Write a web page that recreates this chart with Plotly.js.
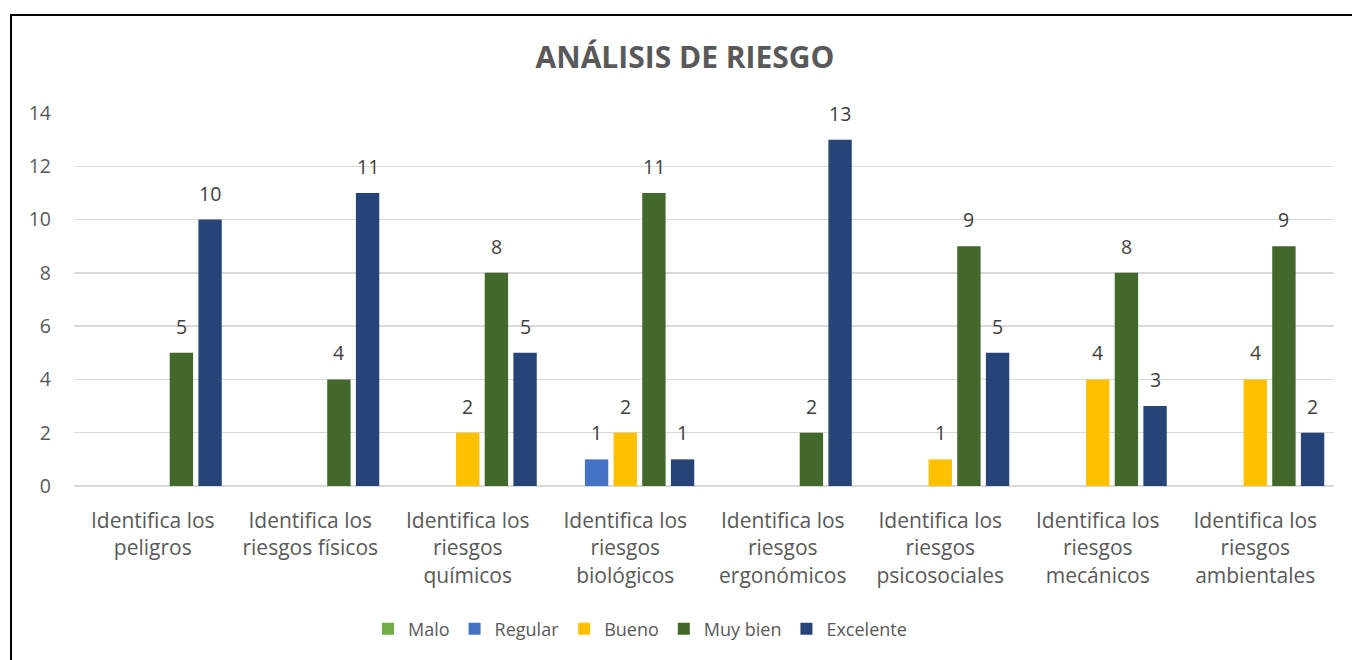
<!DOCTYPE html>
<html>
<head>
<meta charset="utf-8">
<script src="https://cdn.plot.ly/plotly-3.0.1.min.js"></script>
<style>
  html, body { margin: 0; padding: 0; background: #fff; }
  #wrap { position: relative; width: 1352px; height: 660px; overflow: hidden; }
  #chart { position: absolute; left: 0; top: 0; width: 1352px; height: 660px; }
  #frame { position: absolute; left: 10px; top: 14px; width: 1360px; height: 700px;
           border-left: 2px solid #000; border-top: 2px solid #000; pointer-events: none; }
</style>
</head>
<body>
<div id="wrap">
  <div id="chart"></div>
  <div id="frame"></div>
</div>
<script>
const categories = [
  "Identifica los<br>peligros",
  "Identifica los<br>riesgos físicos",
  "Identifica los<br>riesgos<br>químicos",
  "Identifica los<br>riesgos<br>biológicos",
  "Identifica los<br>riesgos<br>ergonómicos",
  "Identifica los<br>riesgos<br>psicosociales",
  "Identifica los<br>riesgos<br>mecánicos",
  "Identifica los<br>riesgos<br>ambientales"
];
const seriesNames = ["Malo", "Regular", "Bueno", "Muy bien", "Excelente"];
const malo      = [null, null, null, null, null, null, null, null];
const regular   = [null, null, null, 1, null, null, null, null];
const bueno     = [null, null, 2, 2, null, 1, 4, 4];
const muyBien   = [5, 4, 8, 11, 2, 9, 8, 9];
const excelente = [10, 11, 5, 1, 13, 5, 3, 2];
const colors = ["#70AD47", "#4472C4", "#FFC000", "#43682B", "#264478"];
const yTicks = [0, 2, 4, 6, 8, 10, 12, 14];

const values = [malo, regular, bueno, muyBien, excelente];
const FONT = "'Open Sans', sans-serif";

const W = 1352, H = 660;
const M = { l: 74, r: 18, t: 113, b: 174 };
const BARGAP = 0.09;
const plotW = W - M.l - M.r;
const slot = plotW / categories.length * (1 - BARGAP) / values.length;

const traces = values.map((v, i) => ({
  type: "bar",
  name: seriesNames[i],
  x: categories,
  y: v,
  marker: { color: colors[i] },
  hoverinfo: "none"
}));

// data labels, positioned through the axes at each bar's value
const annotations = [];
values.forEach((v, i) => {
  v.forEach((d, j) => {
    if (d == null) return;
    annotations.push({
      x: categories[j], y: d, xref: "x", yref: "y",
      text: String(d), showarrow: false,
      xanchor: "center", yanchor: "bottom",
      xshift: (i - (values.length - 1) / 2) * slot,
      yshift: 11,
      font: { family: FONT, size: 19.5, color: "#404040" }
    });
  });
});

const layout = {
  width: W,
  height: H,
  margin: M,
  paper_bgcolor: "rgba(0,0,0,0)",
  plot_bgcolor: "rgba(0,0,0,0)",
  font: { family: FONT, color: "#595959", size: 19 },
  title: {
    text: "<b>ANÁLISIS DE RIESGO</b>",
    font: { family: FONT, size: 30, color: "#595959" },
    x: 685 / W, xanchor: "center",
    y: (H - 57) / H, yanchor: "middle", yref: "container"
  },
  barmode: "group",
  bargap: BARGAP,
  bargroupgap: 0.185,
  xaxis: {
    type: "category",
    showgrid: false,
    showline: false,
    zeroline: false,
    ticks: "",
    ticklabelstandoff: 20,
    tickfont: { family: FONT, size: 21, color: "#595959" },
    automargin: false
  },
  yaxis: {
    range: [0, 14],
    tickvals: yTicks,
    ticktext: yTicks.map(String),
    showgrid: true,
    gridcolor: "#D9D9D9",
    gridwidth: 1.3,
    zeroline: true,
    zerolinecolor: "#D9D9D9",
    zerolinewidth: 1.3,
    showline: false,
    ticks: "",
    ticklabelstandoff: 22,
    tickfont: { family: FONT, size: 19.5, color: "#595959" },
    automargin: false
  },
  annotations: annotations,
  legend: {
    orientation: "h",
    x: (640 - M.l) / plotW, xanchor: "center",
    y: -(629 - (H - M.b)) / (H - M.t - M.b), yanchor: "middle",
    font: { family: FONT, size: 18, color: "#595959" },
    traceorder: "normal"
  },
  showlegend: true
};

Plotly.newPlot("chart", traces, layout, { displayModeBar: false, staticPlot: true });
</script>
</body>
</html>
